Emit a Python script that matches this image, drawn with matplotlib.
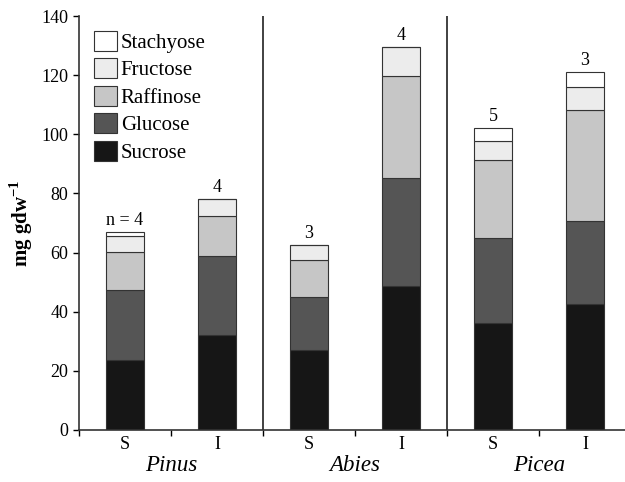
import numpy as np
import matplotlib.pyplot as plt
from matplotlib import font_manager

# шрифт типа Times, если есть
serif = 'DejaVu Serif'
for f in ['Liberation Serif', 'Tinos', 'Nimbus Roman', 'Times New Roman']:
    try:
        font_manager.findfont(f, fallback_to_default=False)
        serif = f
        break
    except ValueError:
        pass
plt.rcParams['font.family'] = [serif, 'DejaVu Serif']
plt.rcParams['mathtext.fontset'] = 'custom'
plt.rcParams['mathtext.rm'] = serif
plt.rcParams['mathtext.bf'] = serif + ':bold'

# данные (mg gdw-1), порядок: Pinus S, Pinus I, Abies S, Abies I, Picea S, Picea I
bar_labels = ['S', 'I', 'S', 'I', 'S', 'I']
genera = ['Pinus', 'Abies', 'Picea']
n_labels = ['n = 4', '4', '3', '4', '5', '3']

sucrose = [23.7, 32.1, 27.0, 48.7, 36.1, 42.6]
glucose = [23.6, 26.8, 18.1, 36.4, 28.9, 28.2]
raffinose = [13.0, 13.6, 12.4, 34.7, 26.4, 37.4]
fructose = [5.4, 5.7, 5.0, 9.6, 6.2, 7.9]
stachyose = [1.3, 0.0, 0.0, 0.0, 4.4, 4.9]

series = [('Sucrose', sucrose, '#161616'),
          ('Glucose', glucose, '#555555'),
          ('Raffinose', raffinose, '#c6c6c6'),
          ('Fructose', fructose, '#ececec'),
          ('Stachyose', stachyose, '#ffffff')]

fig = plt.figure(figsize=(6.25, 4.82), dpi=100)
ax = fig.add_axes([79 / 625, 1 - 430 / 482, 552 / 625, 414 / 482])

x = np.arange(len(bar_labels))
bottom = np.zeros(len(x))
handles = []
for name, vals, col in series:
    vals = np.array(vals)
    b = ax.bar(x, vals, 0.41, bottom=bottom, color=col,
               edgecolor='#333333', linewidth=0.8, label=name)
    handles.append(b)
    bottom += vals

# подписи n над столбиками
for xi, top, lab in zip(x, bottom, n_labels):
    ax.text(xi, top + 1.0, lab, ha='center', va='bottom', fontsize=13)

# разделители между родами
for xs in [1.5, 3.5]:
    ax.plot([xs, xs], [0, 140], color='#333333', lw=1.3)

ax.set_xlim(-0.5, 5.5)
ax.set_ylim(0, 140)
ax.set_yticks(np.arange(0, 141, 20))
ax.set_xticks(x)
ax.set_xticklabels(bar_labels, fontsize=13)
ax.set_xticks(np.arange(-0.5, 5.6, 1), minor=True)
ax.tick_params(axis='x', which='major', length=0, pad=4)
ax.tick_params(axis='x', which='minor', length=4, direction='out', width=1)
ax.tick_params(axis='y', labelsize=13, length=4, width=1)
for s in ['top', 'right']:
    ax.spines[s].set_visible(False)
for s in ['left', 'bottom']:
    ax.spines[s].set_color('#333333')
    ax.spines[s].set_linewidth(1.2)

for i, g in enumerate(genera):
    ax.text(2 * i + 0.5, -12.0, g, ha='center', va='center', fontsize=16.5,
            style='italic')

ax.set_ylabel('mg gdw$^{\\mathbf{-1}}$', fontsize=15, fontweight='bold')
ax.yaxis.set_label_coords(-0.08, 0.5)

leg = ax.legend(handles[::-1], [s[0] for s in series][::-1], loc='upper left',
                frameon=False, fontsize=15, handlelength=1.1, handleheight=1.1,
                handletextpad=0.2, labelspacing=0.26,
                bbox_to_anchor=(0.0, 1.0), borderaxespad=0.3)

fig.savefig('out.png', dpi=100)
